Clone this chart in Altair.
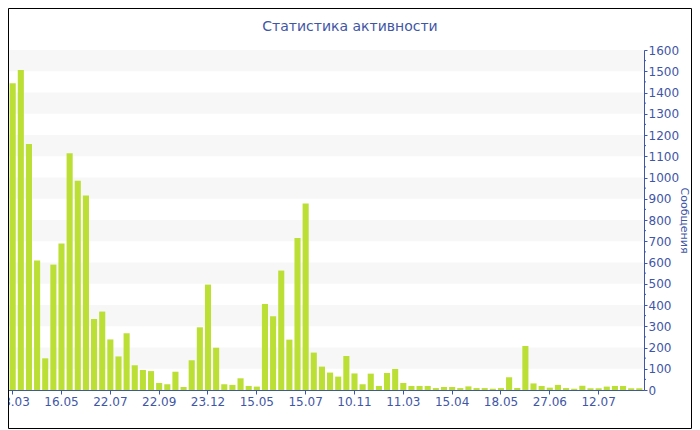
import altair as alt
import pandas as pd

# ---- data ----
counts = [1443, 1506, 1158, 610, 149, 590, 690, 1114, 985, 915,
          334, 369, 238, 158, 267, 116, 94, 89, 33, 27,
          86, 14, 140, 295, 496, 199, 27, 24, 55, 19,
          16, 405, 347, 562, 237, 715, 878, 176, 110, 82,
          63, 160, 78, 27, 77, 19, 80, 99, 33, 19,
          19, 19, 9, 14, 14, 9, 17, 9, 9, 6,
          9, 60, 9, 207, 31, 19, 11, 24, 9, 6,
          20, 8, 8, 16, 19, 19, 8, 8]
tick_labels = ["13.03", "16.05", "22.07", "22.09", "23.12", "15.05", "15.07",
               "10.11", "11.03", "15.04", "18.05", "27.06", "12.07"]
tick_every = 6
y_ticks = list(range(0, 1601, 100))
y_minor = list(range(50, 1600, 100))
band_lo = list(range(100, 1600, 200))

title_text = "Статистика активности"
y_title = "Сообщения"

BLUE = "#3f56a6"
BAR = "#bcdf35"
FONT = "DejaVu Sans"
W, H = 636, 340
PAD = {"left": 0, "top": 42, "right": 48, "bottom": 39}

bars_df = pd.DataFrame({"i": list(range(len(counts))), "count": counts})
bands_df = pd.DataFrame({"lo": band_lo, "hi": [b + 100 for b in band_lo]})
minor_df = pd.DataFrame({"m": y_minor})
one = pd.DataFrame({"a": [0]})

label_expr = "[" + ",".join("'%s'" % t for t in tick_labels) + "][datum.value / %d]" % tick_every

yscale = alt.Scale(domain=[0, 1600], nice=False, zero=True)
yaxis = alt.Axis(orient="right", values=y_ticks, grid=False, title=y_title, format="d",
                 domainColor=BLUE, tickColor=BLUE, labelColor=BLUE, titleColor=BLUE,
                 labelFont=FONT, titleFont=FONT, labelFontSize=12, titleFontSize=11,
                 titleFontWeight="normal", titleAngle=90, titlePadding=0,
                 tickSize=3, labelPadding=1)

bands = alt.Chart(bands_df).mark_rect(color="#f7f7f7").encode(
    y=alt.Y("lo:Q", scale=yscale, axis=yaxis),
    y2="hi:Q",
    x=alt.value(0), x2=alt.value(W),
)

minor = alt.Chart(minor_df).mark_rule(color=BLUE, strokeWidth=1).encode(
    y=alt.Y("m:Q", scale=yscale, axis=yaxis),
    x=alt.value(W), x2=alt.value(W + 2),
)

bars = alt.Chart(bars_df).mark_bar(color=BAR).encode(
    x=alt.X("i:O", title=None,
            scale=alt.Scale(paddingInner=0.25, paddingOuter=0.2),
            axis=alt.Axis(values=list(range(0, len(counts), tick_every)),
                          labelExpr=label_expr, labelAngle=0, grid=False,
                          domainColor=BLUE, tickColor=BLUE, labelColor=BLUE,
                          labelFont=FONT, labelFontSize=12, tickSize=4,
                          labelPadding=2)),
    y=alt.Y("count:Q", scale=yscale, axis=yaxis),
)

title = alt.Chart(one).mark_text(text=title_text, font=FONT, fontSize=14,
                                 color=BLUE, baseline="alphabetic", align="center").encode(
    x=alt.value(342), y=alt.value(-19))

svg_w = PAD["left"] + W + PAD["right"]
svg_h = PAD["top"] + H + PAD["bottom"]
frame = alt.Chart(one).mark_rect(filled=False, stroke="black", strokeWidth=1).encode(
    x=alt.value(0.5 - PAD["left"]), x2=alt.value(svg_w - 0.5 - PAD["left"]),
    y=alt.value(0.5 - PAD["top"]), y2=alt.value(svg_h - 0.5 - PAD["top"]))

chart = alt.layer(bands, minor, bars, title, frame).properties(
    width=W, height=H,
    padding=PAD,
    autosize=alt.AutoSizeParams(type="none"),
).configure_view(stroke=None).configure(background="white")

chart.save("out.html", embed_options={"renderer": "svg", "actions": False})
